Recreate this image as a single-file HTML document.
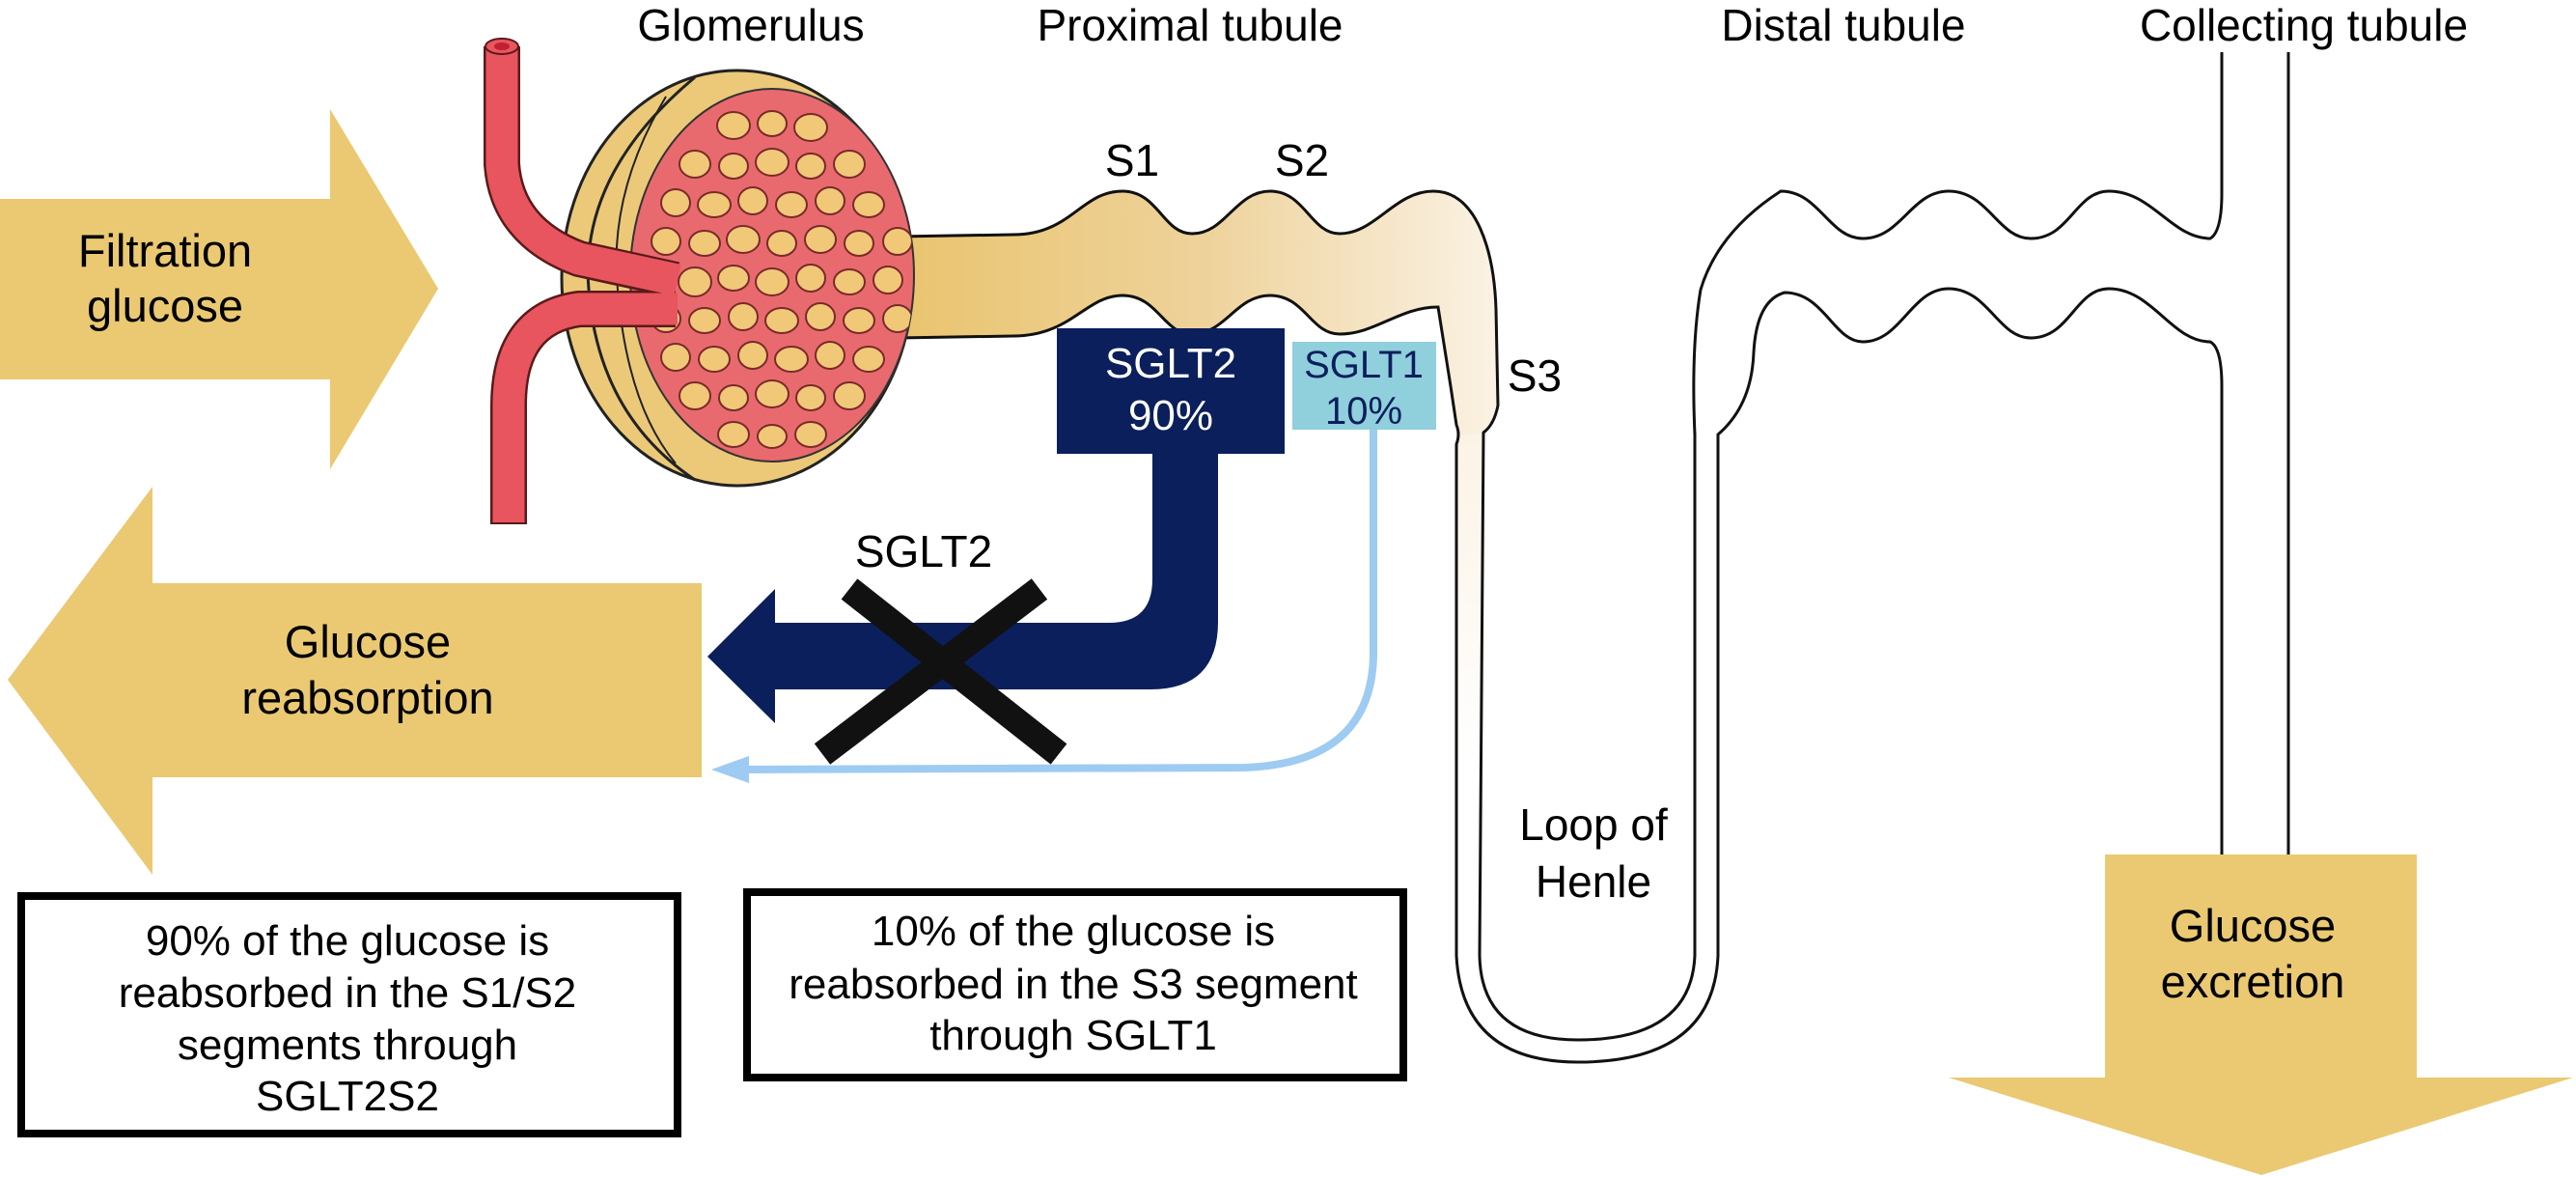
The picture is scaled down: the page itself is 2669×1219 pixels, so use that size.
<!DOCTYPE html>
<html><head><meta charset="utf-8"><style>
html,body{margin:0;padding:0;background:#fff;}
svg{display:block;}
text{font-family:"Liberation Sans",sans-serif;}
</style></head><body>
<svg width="2669" height="1219" viewBox="0 0 2669 1219" xmlns="http://www.w3.org/2000/svg">
<defs>
<linearGradient id="tg" gradientUnits="userSpaceOnUse" x1="930" y1="0" x2="1560" y2="0">
<stop offset="0" stop-color="#e9c46f"/><stop offset="0.5" stop-color="#eed29a"/><stop offset="1" stop-color="#fbf3e6"/>
</linearGradient>
<linearGradient id="vg" gradientUnits="userSpaceOnUse" x1="0" y1="450" x2="0" y2="800">
<stop offset="0" stop-color="#fbf3e6"/><stop offset="1" stop-color="#ffffff"/>
</linearGradient>
<clipPath id="gc"><ellipse cx="800" cy="285" rx="147" ry="193"/></clipPath>
</defs>

<!-- Filtration arrow -->
<polygon points="0,206 342,206 342,113 454,299 342,486 342,393 0,393" fill="#eac972"/>
<text x="171" y="276" font-size="47" text-anchor="middle">Filtration</text>
<text x="171" y="333" font-size="47" text-anchor="middle">glucose</text>

<!-- Reabsorption arrow -->
<polygon points="727,604 158,604 158,504 8,704 158,906 158,805 727,805" fill="#eac972"/>
<text x="381" y="681" font-size="47" text-anchor="middle">Glucose</text>
<text x="381" y="739" font-size="47" text-anchor="middle">reabsorption</text>

<!-- Excretion arrow -->
<polygon points="2181,885 2504,885 2504,1116 2666,1116 2343,1217 2019,1116 2181,1116" fill="#eac972"/>
<text x="2334" y="975" font-size="47" text-anchor="middle">Glucose</text>
<text x="2334" y="1033" font-size="47" text-anchor="middle">excretion</text>

<!-- Proximal tubule fill -->
<path d="M930 245 L1050 243 C1110 243 1120 198 1163 198 C1200 198 1205 242 1235 242 C1270 242 1280 198 1316 198 C1352 198 1358 242 1388 242 C1425 242 1445 198 1485 198 C1530 198 1548 260 1550 320 L1552 420 Q1548 440 1537 448 L1533 800 L1509 800 L1509 460 Q1513 450 1509 440 L1503 400 L1490 318 C1450 318 1425 346 1388 346 C1358 346 1352 306 1316 306 C1280 306 1270 346 1235 346 C1205 346 1200 306 1163 306 C1125 306 1110 348 1050 348 L930 350 Z" fill="url(#tg)"/>
<rect x="1509" y="450" width="28" height="350" fill="url(#vg)"/>

<!-- Tubule outlines -->
<g fill="none" stroke="#111" stroke-width="3">
<path d="M930 245 L1050 243 C1110 243 1120 198 1163 198 C1200 198 1205 242 1235 242 C1270 242 1280 198 1316 198 C1352 198 1358 242 1388 242 C1425 242 1445 198 1485 198 C1530 198 1548 260 1550 320 L1552 420 Q1548 440 1537 448 L1533 990 Q1535 1077 1635 1077 Q1752 1077 1756 990 L1756 450 Q1752 360 1762 300 Q1780 240 1845 198 C1885 198 1895 247 1930 247 C1970 247 1980 198 2019 198 C2060 198 2070 247 2104 247 C2145 247 2150 198 2185 198 C2230 198 2250 247 2290 247 Q2302 240 2302 200 L2302 54"/>
<path d="M930 350 L1050 348 C1110 348 1125 306 1163 306 C1200 306 1205 346 1235 346 C1270 346 1280 306 1316 306 C1352 306 1358 346 1388 346 C1425 346 1450 318 1490 318 L1503 400 L1509 440 Q1513 450 1509 460 L1509 990 Q1515 1100 1635 1100 Q1775 1100 1780 990 L1780 450 Q1815 420 1817 365 Q1820 311 1849 303 C1890 303 1900 354 1930 354 C1970 354 1980 299 2019 299 C2060 299 2070 350 2104 350 C2145 350 2150 299 2185 299 C2230 299 2250 354 2290 354 Q2302 360 2302 400 L2302 885"/>
<line x1="2371" y1="54" x2="2371" y2="885"/>
</g>

<!-- Glomerulus -->
<ellipse cx="764" cy="288" rx="182" ry="215" fill="#ecc978" stroke="#222" stroke-width="3"/>
<path d="M720 80 Q600 180 610 300 Q620 430 720 497" fill="none" stroke="#222" stroke-width="3"/>
<path d="M690 100 Q630 200 640 300 Q650 420 700 480" fill="none" stroke="#222" stroke-width="2"/>
<ellipse cx="800" cy="285" rx="147" ry="193" fill="#e86a6f" stroke="#333" stroke-width="2"/>
<g clip-path="url(#gc)" fill="#f0c878" stroke="#7a2a2a" stroke-width="2">
<ellipse cx="760" cy="130" rx="17" ry="14"/><ellipse cx="800" cy="128" rx="15" ry="13"/><ellipse cx="840" cy="132" rx="17" ry="14"/>
<ellipse cx="720" cy="170" rx="16" ry="14"/><ellipse cx="760" cy="172" rx="15" ry="13"/><ellipse cx="800" cy="168" rx="17" ry="14"/><ellipse cx="840" cy="172" rx="15" ry="13"/><ellipse cx="880" cy="170" rx="16" ry="14"/>
<ellipse cx="700" cy="210" rx="15" ry="14"/><ellipse cx="740" cy="212" rx="17" ry="13"/><ellipse cx="780" cy="208" rx="15" ry="14"/><ellipse cx="820" cy="212" rx="16" ry="13"/><ellipse cx="860" cy="208" rx="15" ry="14"/><ellipse cx="900" cy="212" rx="16" ry="13"/>
<ellipse cx="690" cy="250" rx="15" ry="14"/><ellipse cx="730" cy="252" rx="16" ry="13"/><ellipse cx="770" cy="248" rx="17" ry="14"/><ellipse cx="810" cy="252" rx="15" ry="13"/><ellipse cx="850" cy="248" rx="16" ry="14"/><ellipse cx="890" cy="252" rx="15" ry="13"/><ellipse cx="930" cy="250" rx="15" ry="14"/>
<ellipse cx="720" cy="292" rx="17" ry="15"/><ellipse cx="760" cy="288" rx="16" ry="13"/><ellipse cx="800" cy="292" rx="17" ry="14"/><ellipse cx="840" cy="288" rx="15" ry="14"/><ellipse cx="880" cy="292" rx="16" ry="13"/><ellipse cx="920" cy="290" rx="15" ry="14"/>
<ellipse cx="690" cy="330" rx="15" ry="14"/><ellipse cx="730" cy="332" rx="16" ry="13"/><ellipse cx="770" cy="328" rx="15" ry="14"/><ellipse cx="810" cy="332" rx="17" ry="13"/><ellipse cx="850" cy="328" rx="15" ry="14"/><ellipse cx="890" cy="332" rx="16" ry="13"/><ellipse cx="930" cy="330" rx="15" ry="14"/>
<ellipse cx="700" cy="370" rx="15" ry="14"/><ellipse cx="740" cy="372" rx="16" ry="13"/><ellipse cx="780" cy="368" rx="15" ry="14"/><ellipse cx="820" cy="372" rx="17" ry="13"/><ellipse cx="860" cy="368" rx="15" ry="14"/><ellipse cx="900" cy="372" rx="16" ry="13"/>
<ellipse cx="720" cy="410" rx="16" ry="14"/><ellipse cx="760" cy="412" rx="15" ry="13"/><ellipse cx="800" cy="408" rx="17" ry="14"/><ellipse cx="840" cy="412" rx="15" ry="13"/><ellipse cx="880" cy="410" rx="16" ry="14"/>
<ellipse cx="760" cy="450" rx="16" ry="13"/><ellipse cx="800" cy="452" rx="15" ry="12"/><ellipse cx="840" cy="450" rx="16" ry="13"/>
</g>
<!-- vessels -->
<g fill="none" stroke-linecap="butt">
<path d="M520 48 L520 170 Q525 240 600 268 L700 290" stroke="#5a1a1a" stroke-width="38"/>
<path d="M700 320 L600 320 Q527 330 527 420 L527 543" stroke="#5a1a1a" stroke-width="38"/>
<path d="M520 48 L520 170 Q525 240 600 268 L702 290" stroke="#e8555e" stroke-width="33"/>
<path d="M702 320 L600 320 Q527 330 527 420 L527 541" stroke="#e8555e" stroke-width="33"/>
</g>
<ellipse cx="520" cy="48" rx="17" ry="8" fill="#e8555e" stroke="#5a1a1a" stroke-width="2"/>
<ellipse cx="520" cy="48" rx="8" ry="4" fill="#c02030"/>

<!-- SGLT boxes -->
<rect x="1095" y="340" width="236" height="130" fill="#0b1f5c"/>
<text x="1213" y="391" font-size="44" fill="#fff" text-anchor="middle">SGLT2</text>
<text x="1213" y="445" font-size="44" fill="#fff" text-anchor="middle">90%</text>
<rect x="1339" y="354" width="149" height="91" fill="#90cfdc"/>
<text x="1413" y="391" font-size="40" fill="#0b1f5c" text-anchor="middle">SGLT1</text>
<text x="1413" y="439" font-size="40" fill="#0b1f5c" text-anchor="middle">10%</text>

<!-- Navy arrow -->
<path d="M1194 470 L1194 600 Q1194 645 1149 645 L803 645 L803 610 L733 680 L803 749 L803 714 L1192 714 Q1262 714 1262 644 L1262 470 Z" fill="#0b1f5c"/>

<!-- Light blue arrow -->
<path d="M1423 445 L1423 680 Q1420 790 1290 795 L770 797" fill="none" stroke="#9dcbf2" stroke-width="8"/>
<polygon points="737,797 776,783 776,811" fill="#9dcbf2"/>

<!-- X -->
<g stroke="#111" stroke-width="27">
<line x1="852" y1="781" x2="1077" y2="610"/>
<line x1="880" y1="610" x2="1097" y2="781"/>
</g>
<text x="957" y="587" font-size="46" text-anchor="middle">SGLT2</text>

<!-- Labels -->
<g font-size="46" text-anchor="middle">
<text x="778" y="42">Glomerulus</text>
<text x="1233" y="42">Proximal tubule</text>
<text x="1910" y="42">Distal tubule</text>
<text x="2387" y="42">Collecting tubule</text>
<text x="1173" y="182">S1</text>
<text x="1349" y="182">S2</text>
<text x="1590" y="405">S3</text>
<text x="1651" y="870">Loop of</text>
<text x="1651" y="929">Henle</text>
</g>

<!-- Boxes -->
<rect x="22" y="928" width="680" height="246" fill="#fff" stroke="#000" stroke-width="8"/>
<g font-size="44" text-anchor="middle">
<text x="360" y="989">90% of the glucose is</text>
<text x="360" y="1043">reabsorbed in the S1/S2</text>
<text x="360" y="1097">segments through</text>
<text x="360" y="1150">SGLT2S2</text>
</g>
<rect x="774" y="924" width="680" height="192" fill="#fff" stroke="#000" stroke-width="8"/>
<g font-size="44" text-anchor="middle">
<text x="1112" y="979">10% of the glucose is</text>
<text x="1112" y="1034">reabsorbed in the S3 segment</text>
<text x="1112" y="1087">through SGLT1</text>
</g>
</svg>
</body></html>
